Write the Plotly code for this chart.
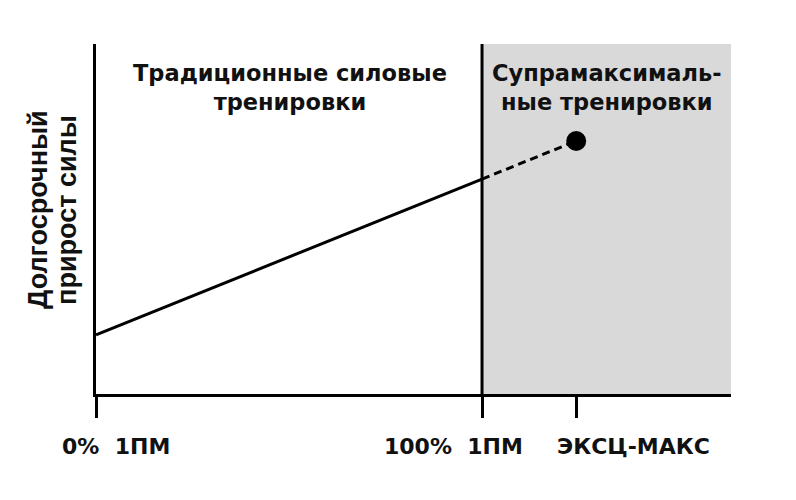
import plotly.graph_objects as go

# Data
x_solid = [0, 100]
y_solid = [16.9, 61.4]
x_dash = [100, 124.4]
y_dash = [61.4, 72.3]
point_x = [124.4]
point_y = [72.3]
tick_vals = [0, 100, 124.4]
tick_labels = ["0%  1ПМ", "100%  1ПМ", "ЭКСЦ-МАКС"]
label_x = [5.2, 92.7, 139.2]
region_labels = ["Традиционные силовые<br>тренировки", "Супрамаксималь-<br>ные тренировки"]
region_label_x = [50.3, 132.4]
ylabel_lines = ["Долгосрочный", "прирост силы"]
ylabel_x = [-0.0913, -0.0457]
x_max = 164.5
y_max = 100

fig = go.Figure()
fig.add_shape(type="rect", x0=100, x1=x_max, y0=0, y1=1, yref="paper",
              fillcolor="#d9d9d9", line=dict(width=0), layer="below")
fig.add_shape(type="line", x0=100, x1=100, y0=0, y1=1, yref="paper",
              line=dict(color="black", width=3))

fig.add_trace(go.Scatter(x=x_solid, y=y_solid, mode="lines",
                         line=dict(color="black", width=3), showlegend=False))
fig.add_trace(go.Scatter(x=x_dash, y=y_dash, mode="lines",
                         line=dict(color="black", width=3, dash="8px,5px"), showlegend=False))
fig.add_trace(go.Scatter(x=point_x, y=point_y, mode="markers",
                         marker=dict(color="black", size=20), showlegend=False))

tfont = dict(family="DejaVu Sans", size=22.5, color="#111", weight=700)
for txt, xx in zip(region_labels, region_label_x):
    fig.add_annotation(x=xx, y=0.877, yref="paper", yanchor="middle",
                       text=txt, showarrow=False, font=tfont, align="center")

for txt, xx in zip(tick_labels, label_x):
    fig.add_annotation(x=xx, y=-0.151, yref="paper", yanchor="middle",
                       text=txt, showarrow=False,
                       font=dict(family="DejaVu Sans", size=22, color="#111", weight=700))

for txt, xx in zip(ylabel_lines, ylabel_x):
    fig.add_annotation(x=xx, y=0.526, xref="paper", yref="paper",
                       xanchor="center", yanchor="middle",
                       text=txt, textangle=-90, showarrow=False,
                       font=dict(family="Liberation Sans", size=27, color="#111", weight=700))

fig.update_xaxes(range=[0, x_max], showgrid=False, zeroline=False,
                 showline=True, linecolor="black", linewidth=3,
                 ticks="outside", ticklen=21, tickwidth=3, tickcolor="black",
                 tickvals=tick_vals, showticklabels=False)
fig.update_yaxes(range=[0, y_max], showgrid=False, zeroline=False,
                 showline=True, linecolor="black", linewidth=3,
                 ticks="", showticklabels=False)

fig.update_layout(width=796, height=500, plot_bgcolor="white", paper_bgcolor="white",
                  margin=dict(l=88, r=73, t=36, b=114))
fig.write_html("out.html")
